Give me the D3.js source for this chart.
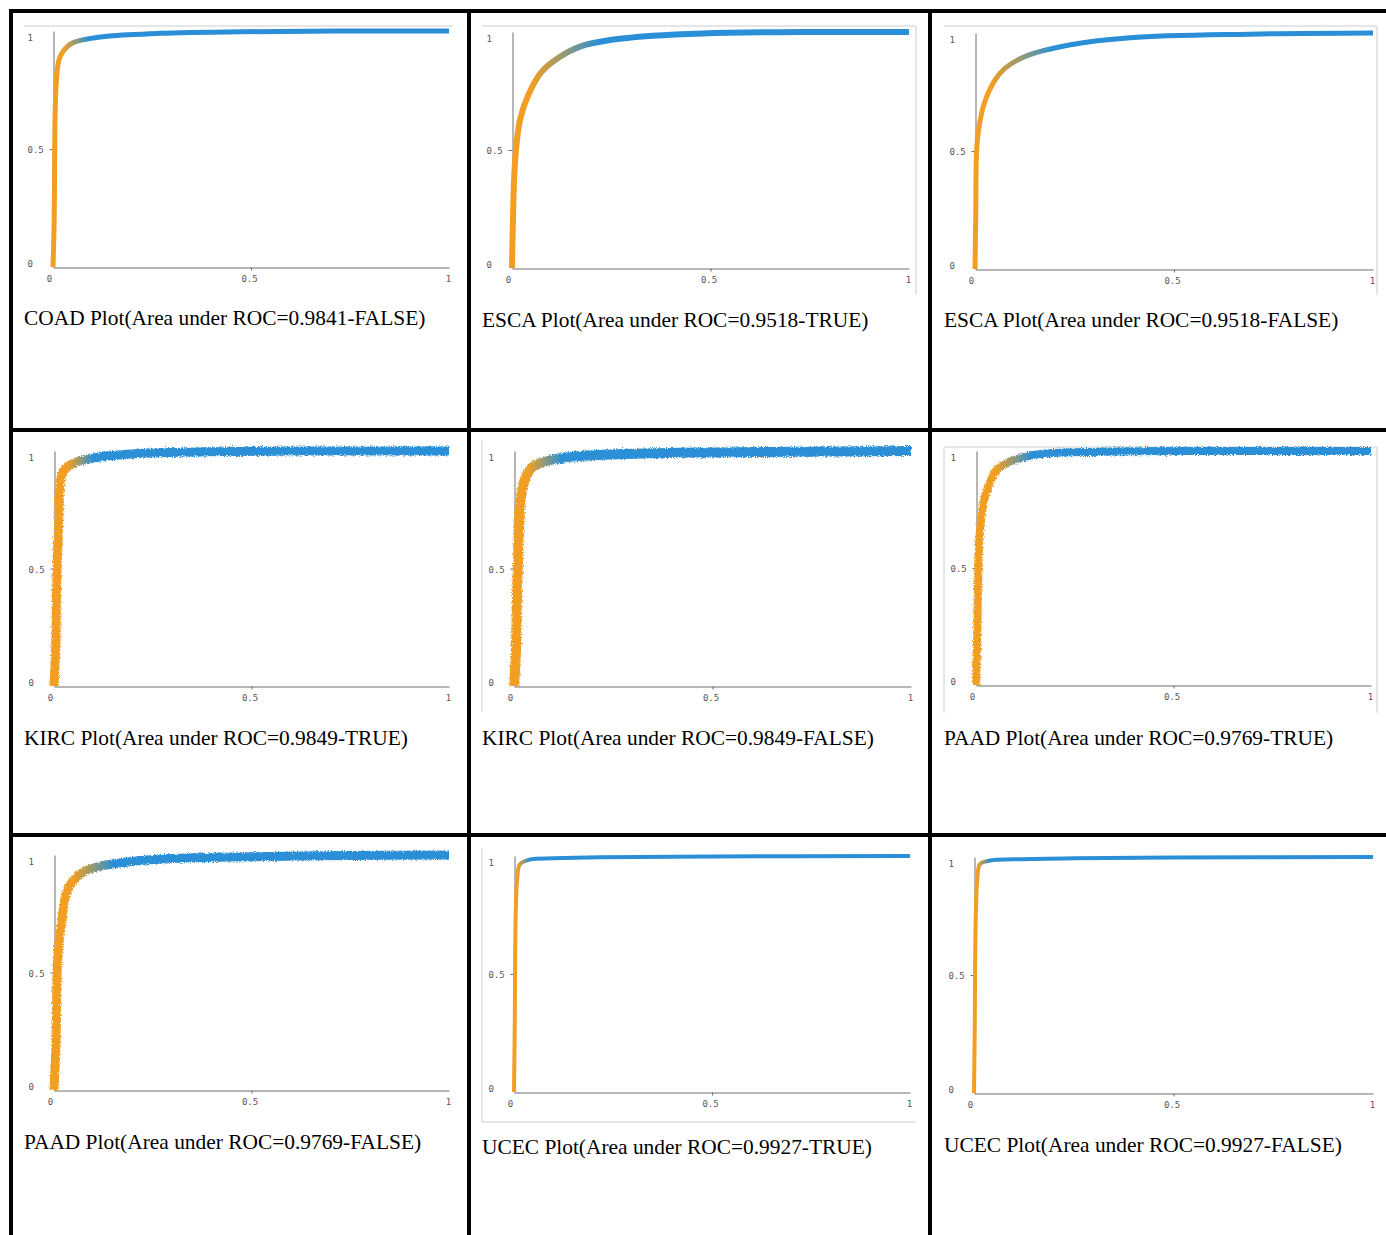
<!DOCTYPE html>
<html>
<head>
<meta charset="utf-8">
<script src="https://cdn.jsdelivr.net/npm/d3@7"></script>
<style>
  body { margin: 0; background: #fff; }
  svg { display: block; }
</style>
</head>
<body>
<svg id="chart" width="1386" height="1235"></svg>
<script>
// ROC curves: false positive rate (fpr) against true positive rate (tpr)
const coadFalseFpr = [0, 0.003, 0.004, 0.005, 0.007, 0.010, 0.015, 0.022, 0.032, 0.050, 0.083, 0.142, 0.268, 0.48, 0.73, 1];
const coadFalseTpr = [0, 0.200, 0.450, 0.620, 0.740, 0.820, 0.877, 0.905, 0.927, 0.950, 0.965, 0.979, 0.990, 0.997, 1.0, 1];

const escaTrueFpr = [0, 0.003, 0.008, 0.020, 0.041, 0.075, 0.121, 0.171, 0.247, 0.355, 0.481, 0.733, 1];
const escaTrueTpr = [0, 0.246, 0.458, 0.627, 0.733, 0.832, 0.895, 0.938, 0.966, 0.984, 0.994, 1.0, 1];

const escaFalseFpr = [0, 0.002, 0.004, 0.010, 0.023, 0.050, 0.075, 0.125, 0.240, 0.390, 0.690, 1];
const escaFalseTpr = [0, 0.250, 0.500, 0.600, 0.700, 0.800, 0.850, 0.900, 0.950, 0.980, 0.995, 1];

const kircTrueFpr = [0, 0.004, 0.006, 0.008, 0.012, 0.015, 0.023, 0.045, 0.100, 0.225, 0.390, 0.70, 1];
const kircTrueTpr = [0, 0.150, 0.350, 0.520, 0.700, 0.840, 0.915, 0.945, 0.970, 0.990, 0.997, 1.0, 1];

const kircFalseFpr = [0, 0.005, 0.007, 0.010, 0.014, 0.020, 0.030, 0.045, 0.078, 0.140, 0.340, 0.70, 1];
const kircFalseTpr = [0, 0.150, 0.350, 0.520, 0.720, 0.830, 0.890, 0.930, 0.955, 0.975, 0.990, 0.997, 1];

const paadTrueFpr = [0, 0.003, 0.006, 0.010, 0.019, 0.031, 0.052, 0.086, 0.145, 0.314, 0.60, 1];
const paadTrueTpr = [0, 0.200, 0.490, 0.660, 0.777, 0.848, 0.919, 0.954, 0.983, 0.997, 1.0, 1];

const paadFalseFpr = [0, 0.005, 0.008, 0.012, 0.020, 0.030, 0.053, 0.090, 0.167, 0.270, 0.50, 0.75, 1];
const paadFalseTpr = [0, 0.200, 0.500, 0.620, 0.720, 0.830, 0.900, 0.940, 0.966, 0.983, 0.993, 0.998, 1];

const ucecTrueFpr = [0, 0.002, 0.003, 0.005, 0.008, 0.015, 0.040, 0.10, 0.22, 0.50, 1];
const ucecTrueTpr = [0, 0.300, 0.600, 0.800, 0.900, 0.965, 0.985, 0.99, 0.995, 0.998, 1];

const ucecFalseFpr = [0, 0.002, 0.003, 0.005, 0.008, 0.015, 0.040, 0.10, 0.25, 0.50, 1];
const ucecFalseTpr = [0, 0.300, 0.600, 0.780, 0.900, 0.970, 0.985, 0.99, 0.995, 0.998, 1];

// Captions
const cohorts = ["COAD", "ESCA", "ESCA", "KIRC", "KIRC", "PAAD", "PAAD", "UCEC", "UCEC"];
const aucValues = ["0.9841", "0.9518", "0.9518", "0.9849", "0.9849", "0.9769", "0.9769", "0.9927", "0.9927"];
const flags = ["FALSE", "TRUE", "FALSE", "TRUE", "FALSE", "TRUE", "FALSE", "TRUE", "FALSE"];
const tickValues = [0, 0.5, 1];
const tickLabels = ["0", "0.5", "1"];

const series = [
  [coadFalseFpr, coadFalseTpr], [escaTrueFpr, escaTrueTpr], [escaFalseFpr, escaFalseTpr],
  [kircTrueFpr, kircTrueTpr], [kircFalseFpr, kircFalseTpr], [paadTrueFpr, paadTrueTpr],
  [paadFalseFpr, paadFalseTpr], [ucecTrueFpr, ucecTrueTpr], [ucecFalseFpr, ucecFalseTpr]
];

// Panel placement and styling: plot area in pixels, colour ramp span (in fpr), stroke
const layout = [
  { x0: 53,  x1: 449,  y0: 267,  y1: 31,  cap: 325,  grad: [0.025, 0.09], sw: 5, rough: false, frame: ["top"], fb: [24, 26, 453, 300] },
  { x0: 512, x1: 909,  y0: 268,  y1: 32,  cap: 327,  grad: [0.05, 0.22],  sw: 6, rough: false, frame: ["top", "right"], fb: [482, 26, 916, 295] },
  { x0: 975, x1: 1373, y0: 269,  y1: 33,  cap: 327,  grad: [0.04, 0.20],  sw: 5, rough: false, frame: ["top", "right"], fb: [944, 26, 1377, 295] },
  { x0: 54,  x1: 449,  y0: 686,  y1: 451, cap: 745,  grad: [0.035, 0.10], sw: 9, rough: true,  frame: [], fb: [24, 447, 453, 712] },
  { x0: 514, x1: 911,  y0: 686,  y1: 451, cap: 745,  grad: [0.035, 0.12], sw: 10, rough: true, frame: ["left"], fb: [482, 440, 916, 712] },
  { x0: 976, x1: 1371, y0: 685,  y1: 451, cap: 745,  grad: [0.05, 0.14],  sw: 8, rough: true,  frame: ["left", "top", "right"], fb: [944, 447, 1377, 713] },
  { x0: 54,  x1: 449,  y0: 1090, y1: 855, cap: 1149, grad: [0.05, 0.15],  sw: 9, rough: true,  frame: [], fb: [24, 850, 453, 1117] },
  { x0: 514, x1: 910,  y0: 1092, y1: 856, cap: 1154, grad: [0.01, 0.04],  sw: 4, rough: false, frame: ["left", "bottom"], fb: [482, 848, 916, 1122] },
  { x0: 974, x1: 1373, y0: 1093, y1: 857, cap: 1152, grad: [0.01, 0.04],  sw: 4, rough: false, frame: [], fb: [944, 850, 1377, 1122] }
];
const captionX = [24, 482, 944];

const ORANGE = "#f19e22";
const BLUE = "#2a8fd6";
const AXIS = "#6f6f6f";

const svg = d3.select("#chart");
const defs = svg.append("defs");

// Slightly frayed stroke for the noisier curves
const rough = defs.append("filter").attr("id", "rough")
  .attr("x", "-10%").attr("y", "-10%").attr("width", "120%").attr("height", "120%");
rough.append("feTurbulence").attr("type", "fractalNoise").attr("baseFrequency", 0.9)
  .attr("numOctaves", 2).attr("seed", 3).attr("result", "noise");
rough.append("feDisplacementMap").attr("in", "SourceGraphic").attr("in2", "noise")
  .attr("scale", 4.5).attr("xChannelSelector", "R").attr("yChannelSelector", "G");

series.forEach(([fpr, tpr], i) => {
  const L = layout[i];
  const g = svg.append("g");
  const x = d3.scaleLinear().domain([0, 1]).range([L.x0, L.x1]);
  const y = d3.scaleLinear().domain([0, 1]).range([L.y0, L.y1]);

  // faint image frame edges
  const [fx0, fy0, fx1, fy1] = L.fb;
  const edges = {
    top: [fx0, fy0, fx1, fy0], bottom: [fx0, fy1, fx1, fy1],
    left: [fx0, fy0, fx0, fy1], right: [fx1, fy0, fx1, fy1]
  };
  L.frame.forEach(k => {
    const e = edges[k];
    g.append("line").attr("x1", e[0]).attr("y1", e[1]).attr("x2", e[2]).attr("y2", e[3])
      .attr("stroke", "#dedede").attr("stroke-width", 1.5);
  });

  // axes
  const yAxis = g.append("g").attr("transform", `translate(${L.x0 + 0.5},0)`)
    .call(d3.axisLeft(y).tickValues(tickValues).tickSize(4).tickSizeOuter(0)
      .tickFormat((d, k) => tickLabels[k]));
  const xAxis = g.append("g").attr("transform", `translate(0,${L.y0 + 0.5})`)
    .call(d3.axisBottom(x).tickValues(tickValues).tickSize(3).tickSizeOuter(0)
      .tickFormat((d, k) => tickLabels[k]));

  [yAxis, xAxis].forEach(a => {
    a.select(".domain").attr("stroke", AXIS).attr("stroke-width", 1);
    a.selectAll(".tick line").attr("stroke", AXIS).attr("opacity", d => d === 0.5 ? 1 : 0);
    a.selectAll(".tick text").attr("font-family", "DejaVu Sans Mono").attr("font-size", 9)
      .attr("fill", "#555");
  });
  yAxis.selectAll(".tick text")
    .attr("text-anchor", "start").attr("x", -26)
    .attr("dy", "0.32em")
    .attr("transform", d => `translate(0,${d === 1 ? 7 : d === 0 ? -3 : 1})`);
  xAxis.selectAll(".tick text")
    .attr("y", 8)
    .attr("dx", d => d === 0 ? -4 : d === 0.5 ? -2 : -1);

  // colour ramp along the curve, from the steep part to the plateau
  const gid = "ramp" + i;
  const grad = defs.append("linearGradient").attr("id", gid)
    .attr("gradientUnits", "userSpaceOnUse")
    .attr("x1", x(L.grad[0])).attr("x2", x(L.grad[1])).attr("y1", 0).attr("y2", 0);
  grad.append("stop").attr("offset", 0).attr("stop-color", ORANGE);
  grad.append("stop").attr("offset", 0.5).attr("stop-color", "#8f9a78");
  grad.append("stop").attr("offset", 1).attr("stop-color", BLUE);

  const pts = fpr.map((f, k) => [f, tpr[k]]);
  const line = d3.line().x(d => x(d[0])).y(d => y(d[1])).curve(d3.curveCatmullRom.alpha(0.5));
  const path = g.append("path").datum(pts)
    .attr("d", line)
    .attr("fill", "none")
    .attr("stroke", `url(#${gid})`)
    .attr("stroke-width", L.sw)
    .attr("stroke-linejoin", "round")
    .attr("stroke-linecap", "butt");
  if (L.rough) path.attr("filter", "url(#rough)");

  // caption
  g.append("text")
    .attr("x", captionX[i % 3]).attr("y", L.cap)
    .attr("font-family", "Liberation Serif, 'Times New Roman', serif")
    .attr("font-size", 21.4)
    .attr("fill", "#000")
    .text(`${cohorts[i]} Plot(Area under ROC=${aucValues[i]}-${flags[i]})`);
});

// table rules
const rules = svg.append("g").attr("fill", "#000");
const hLines = [9, 428, 833];
const vLines = [9, 467, 928];
hLines.forEach(yy => rules.append("rect").attr("x", 9).attr("y", yy).attr("width", 1377).attr("height", 4));
vLines.forEach(xx => rules.append("rect").attr("x", xx).attr("y", 9).attr("width", 4).attr("height", 1226));
</script>
</body>
</html>
